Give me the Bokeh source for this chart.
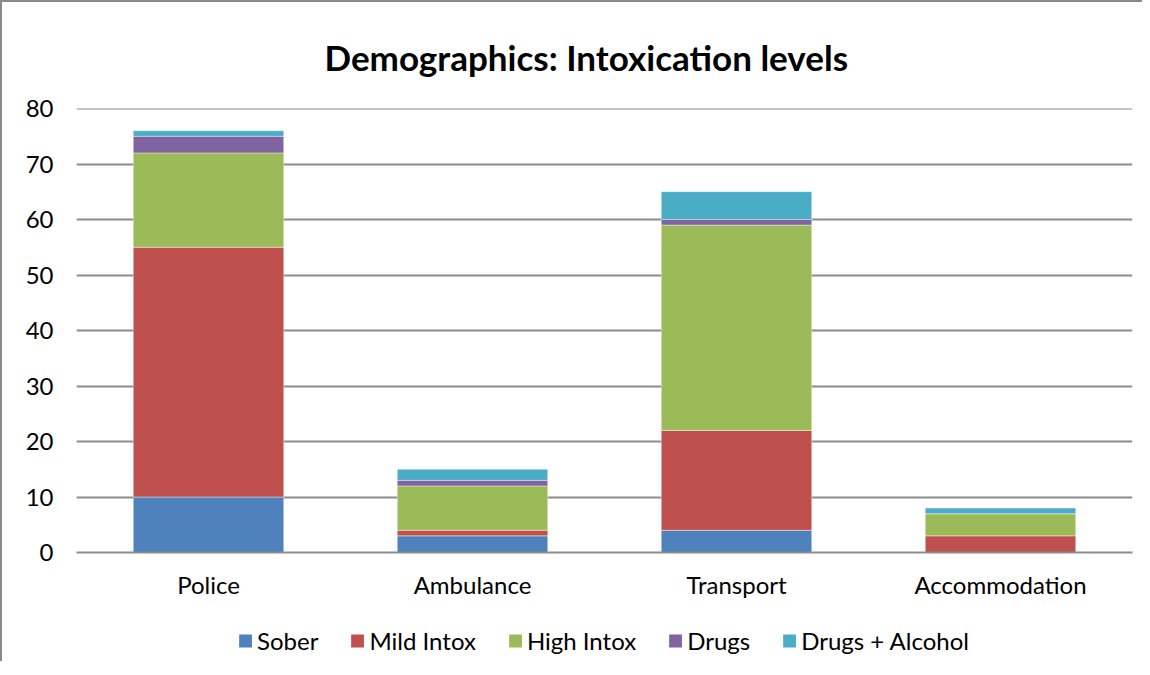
from bokeh.plotting import figure
from bokeh.layouts import column
from bokeh.models import ColumnDataSource, Legend, LegendItem, Title, SingleIntervalTicker, Span
from bokeh.embed import file_html
from bokeh.resources import INLINE

categories = ["Police", "Ambulance", "Transport", "Accommodation"]
series = ["Sober", "Mild Intox", "High Intox", "Drugs", "Drugs + Alcohol"]
sober = [10, 3, 4, 0]
mild = [45, 1, 18, 3]
high = [17, 8, 37, 4]
drugs = [3, 1, 1, 0]
drugs_alcohol = [1, 2, 5, 1]
colors = ["#4F81BD", "#C0504D", "#9BBB59", "#8064A2", "#4BACC6"]
y_max = 80

FONT = "Lato"
keys = ["sober", "mild", "high", "drugs", "da"]
src = ColumnDataSource(dict(cat=categories, sober=sober, mild=mild, high=high,
                            drugs=drugs, da=drugs_alcohol))

p = figure(x_range=categories, y_range=(0, y_max), frame_width=1054, frame_height=442,
           output_backend="svg", toolbar_location=None,
           min_border_left=74, min_border_right=12, min_border_top=104, min_border_bottom=5)
p.styles = {"border-left": "2px solid #8a8a8a", "border-top": "2px solid #8a8a8a"}

rs = p.vbar_stack(keys, x="cat", width=0.57, color=colors, source=src,
                  line_color="white", line_alpha=0.4, line_width=1)

p.add_layout(Span(location=y_max, dimension="width", line_color="#8c8c8c", line_width=2))

t = Title(text="Demographics: Intoxication levels", align="left",
          text_font=FONT, text_font_size="35px", text_font_style="bold",
          text_color="black", offset=248, standoff=62)
p.add_layout(t, "above")

p.outline_line_color = None
p.xgrid.grid_line_color = None
p.ygrid.grid_line_color = "#8c8c8c"
p.ygrid.grid_line_width = 2
p.yaxis.ticker = SingleIntervalTicker(interval=10)
p.yaxis.axis_line_color = None
p.yaxis.major_tick_line_color = None
p.yaxis.minor_tick_line_color = None
p.yaxis.major_label_standoff = 17
p.yaxis.major_label_text_font = FONT
p.yaxis.major_label_text_font_size = "24px"
p.yaxis.major_label_text_color = "black"
p.xaxis.axis_line_color = "#8c8c8c"
p.xaxis.axis_line_width = 2
p.xaxis.major_tick_line_color = None
p.xaxis.minor_tick_line_color = None
p.xaxis.major_label_standoff = 11
p.xaxis.major_label_text_font = FONT
p.xaxis.major_label_text_font_size = "24px"
p.xaxis.major_label_text_color = "black"

# separate strip for the legend (bars there fall outside its y range)
p2 = figure(x_range=categories, y_range=(1000, 1001), width=1140, height=62,
            output_backend="svg", toolbar_location=None,
            min_border_left=20, min_border_right=0, min_border_top=20, min_border_bottom=0)
p2.styles = {"border-left": "2px solid #8a8a8a"}
p2.axis.visible = False
p2.grid.grid_line_color = None
p2.outline_line_color = None
rs2 = p2.vbar_stack(keys, x="cat", width=0.57, color=colors, source=src, line_color=None)

legend = Legend(items=[LegendItem(label=s, renderers=[r]) for s, r in zip(series, rs2)],
                orientation="horizontal", location="center",
                label_text_font=FONT, label_text_font_size="24px", label_text_color="black",
                label_height=24,
                glyph_width=16, glyph_height=16, label_standoff=4, spacing=31,
                border_line_color=None, background_fill_alpha=0, margin=0, padding=0)
p2.add_layout(legend, "center")

layout = column(p, p2, spacing=0)
open("out.html", "w").write(file_html(layout, INLINE))
